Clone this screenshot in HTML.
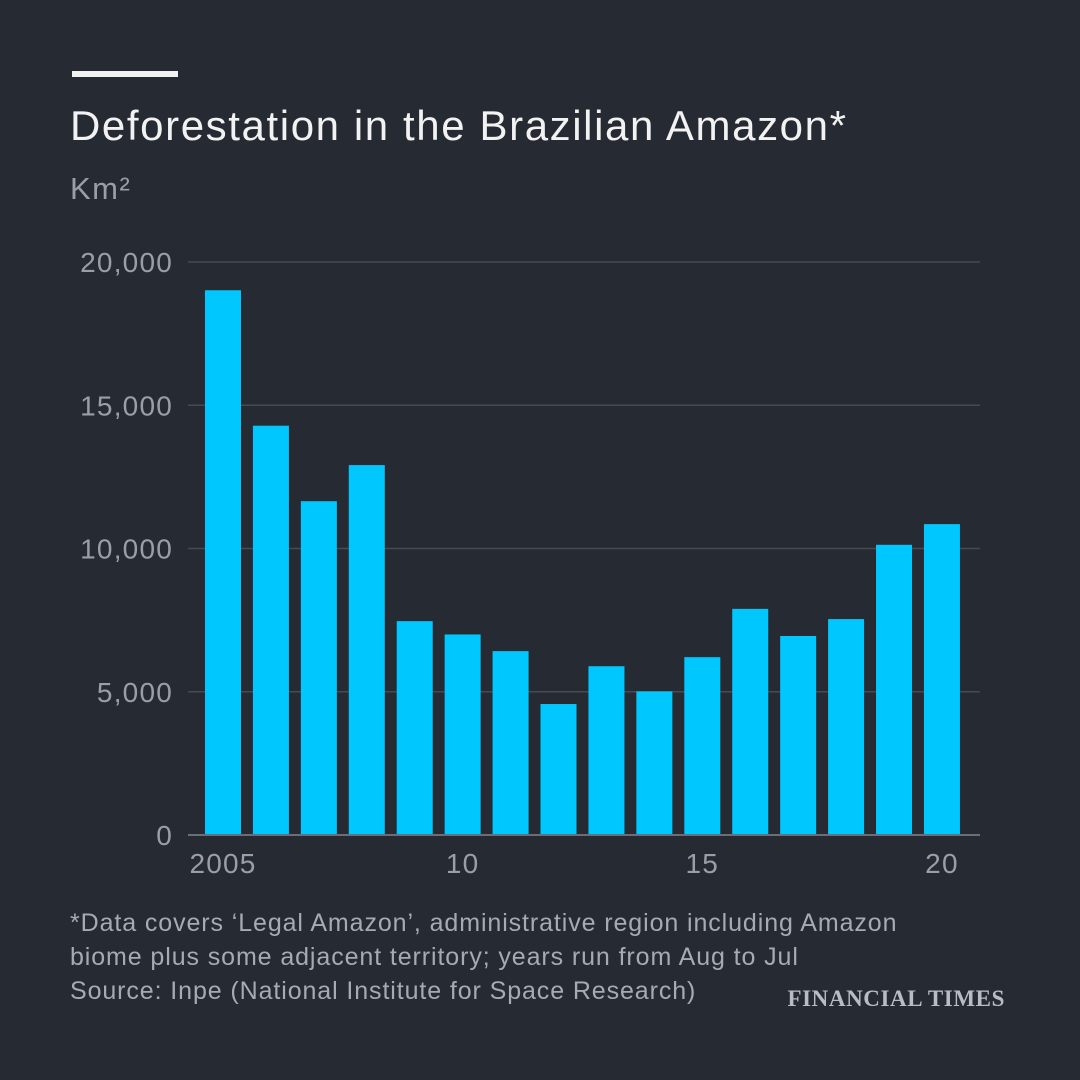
<!DOCTYPE html>
<html><head><meta charset="utf-8"><style>
html,body{margin:0;padding:0;background:#262a33;}
#wrap{position:relative;width:1080px;height:1080px;background:#262a33;font-family:"Liberation Sans",sans-serif;overflow:hidden;}
.t{position:absolute;white-space:nowrap;}
</style></head><body>
<div id="wrap">
<div style="position:absolute;left:72px;top:71px;width:106px;height:6px;background:#f2f2f2"></div>
<div class="t" style="left:70px;top:102px;font-size:42px;letter-spacing:1.6px;color:#f2f2f2">Deforestation in the Brazilian Amazon*</div>
<div class="t" style="left:70px;top:171px;font-size:31px;letter-spacing:1.5px;color:#9a9ea6">Km²</div>
<svg id="chart" width="1080" height="1080" style="position:absolute;left:0;top:0"></svg>
<div class="t" style="left:70px;top:906px;font-size:25px;letter-spacing:0.9px;line-height:34px;color:#a6aab2">*Data covers ‘Legal Amazon’, administrative region including Amazon<br>biome plus some adjacent territory; years run from Aug to Jul<br>Source: Inpe (National Institute for Space Research)</div>
<div class="t" style="right:75px;top:986px;font-family:'Liberation Serif',serif;font-size:23px;font-weight:bold;color:#b8bcc4;letter-spacing:0.6px">FINANCIAL TIMES</div>
</div>
<script>
const years=[2005,2006,2007,2008,2009,2010,2011,2012,2013,2014,2015,2016,2017,2018,2019,2020];
const values=[19014,14286,11651,12911,7464,7000,6418,4571,5891,5012,6207,7893,6947,7536,10129,10851];
const yTicks=[0,5000,10000,15000,20000];
const yTickLabels=["0","5,000","10,000","15,000","20,000"];
const xTickYears=[2005,2010,2015,2020];
const xTickLabels=["2005","10","15","20"];
const NS="http://www.w3.org/2000/svg";
const svg=document.getElementById('chart');
const y0=835,y1=262,plotL=188,plotR=980;
const y=v=>y0-(v/20000)*(y0-y1);
const step=47.93,bw=36,firstX=205;
const x=yr=>firstX+(yr-years[0])*step;
function mk(tag,attrs){const e=document.createElementNS(NS,tag);for(const k in attrs)e.setAttribute(k,attrs[k]);svg.appendChild(e);return e;}
yTicks.forEach((t,i)=>{
 const l=mk('line',{x1:plotL,x2:plotR,y1:y(t),y2:y(t),stroke:t===0?'#6a6e76':'#464a53','stroke-width':t===0?2:1.5});
 
 
 const tx=mk('text',{x:173,y:y(t)+10,'text-anchor':'end','font-size':28,'letter-spacing':1.2,fill:'#9a9ea6','font-family':'Liberation Sans, sans-serif'});
 tx.textContent=yTickLabels[i];
 
 
});
years.forEach((yr,i)=>{
 const r=mk('rect',{x:x(yr),y:y(values[i]),width:bw,height:y0-y(values[i]),fill:'#00c8ff'});
 
 
});
const bl=mk('line',{x1:plotL,x2:plotR,y1:y0,y2:y0,stroke:'#6a6e76','stroke-width':2});


xTickYears.forEach((yr,i)=>{
 const tx=mk('text',{x:x(yr)+bw/2,y:873,'text-anchor':'middle','font-size':28,'letter-spacing':1.2,fill:'#9a9ea6','font-family':'Liberation Sans, sans-serif'});
 tx.textContent=xTickLabels[i];
 
 
});
</script>
</body></html>
